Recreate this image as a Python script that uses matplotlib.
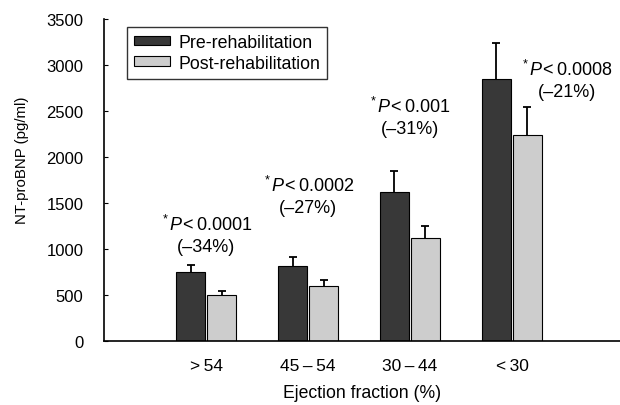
import matplotlib
matplotlib.use("Agg")
import numpy as np
import matplotlib.pyplot as plt

plt.rcParams['font.family'] = ['Liberation Sans', 'DejaVu Sans']
plt.rcParams['mathtext.fontset'] = 'custom'
plt.rcParams['mathtext.rm'] = 'Liberation Sans'
plt.rcParams['mathtext.it'] = 'Liberation Sans:italic'

# data
groups = ['>\u200954', '45\u2009\u2013\u200954', '30\u2009\u2013\u200944', '<\u200930']
pre_mean = [750, 815, 1620, 2850]
pre_err = [76, 98, 228, 390]
post_mean = [500, 598, 1120, 2240]
post_err = [43, 65, 130, 305]
p_labels = ['0.0001', '0.0002', '0.001', '0.0008']
pct_change = [-34, -27, -31, -21]

fig = plt.figure(figsize=(6.2, 4.06), dpi=100)
ax = fig.add_axes([0.168, 0.158, 0.832, 0.793])

x = np.arange(1, len(groups) + 1)
width = 0.285
off = 0.152

ax.bar(x - off, pre_mean, width, color='#383838', edgecolor='black', linewidth=0.8,
       label='Pre-rehabilitation')
ax.bar(x + off, post_mean, width, color='#cdcdcd', edgecolor='black', linewidth=0.8,
       label='Post-rehabilitation')

# one-sided error bars, hide the cap sitting on the bar top
for xpos, mean, err in [(x - off, pre_mean, pre_err), (x + off, post_mean, post_err)]:
    eb = ax.errorbar(xpos, mean, yerr=[np.zeros(len(x)), err], fmt='none',
                     ecolor='black', elinewidth=1.3, capsize=3.2, capthick=1.3)
    eb[1][0].set_visible(False)

# annotation placement (x, y of the upper line)
label_pos = [(1.0, 1270), (2.0, 1700), (3.0, 2555), (4.54, 2960)]
for (lx, ly), p, pc in zip(label_pos, p_labels, pct_change):
    ax.text(lx, ly, r'$^*P\!<\!$' + '\u2009' + p, ha='center', va='center', fontsize=13)
    ax.text(lx, ly - 245, '(\u2013%d%%)' % abs(pc), ha='center', va='center', fontsize=13)

ax.set_xlim(0, 5.06)
ax.set_ylim(0, 3500)
ax.set_yticks(np.arange(0, 3501, 500))
ax.set_xticks(x)
ax.set_xticklabels(groups)
ax.tick_params(axis='y', direction='in', length=3, labelsize=12, pad=15)
ax.tick_params(axis='x', length=0, labelsize=12.5, pad=12)
ax.spines['top'].set_visible(False)
ax.spines['right'].set_visible(False)
ax.spines['left'].set_linewidth(1.2)
ax.spines['bottom'].set_linewidth(1.2)

ax.set_ylabel('NT-proBNP (pg/ml)', fontsize=10.8)
ax.yaxis.set_label_coords(-0.146, 0.565)
ax.set_xlabel('Ejection fraction (%)', fontsize=12.7, labelpad=8)

leg = ax.legend(loc='upper left', bbox_to_anchor=(0.045, 0.975), fontsize=12.8,
                frameon=True, fancybox=False, edgecolor='black',
                handlelength=2.0, handleheight=0.45, borderpad=0.4,
                labelspacing=0.2, handletextpad=0.45, borderaxespad=0)
leg.get_frame().set_linewidth(1.0)

fig.savefig('out.png', dpi=100)
